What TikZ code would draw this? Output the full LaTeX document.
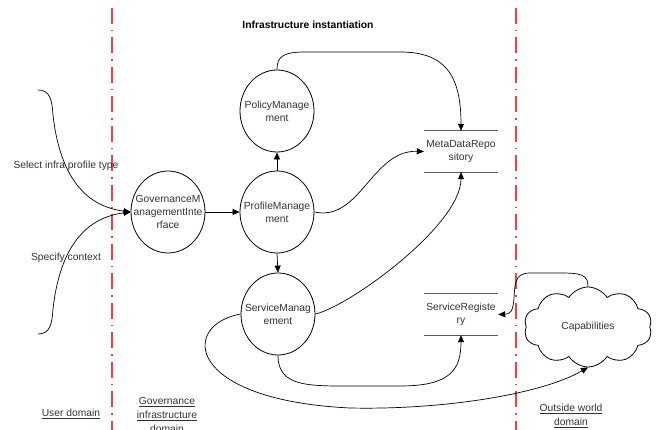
\documentclass[tikz,border=0pt]{standalone}
\usepackage{fontspec}
\setmainfont{Liberation Sans}
\usetikzlibrary{arrows.meta,shapes.geometric,shapes.symbols}
\definecolor{txt}{HTML}{333333}
\definecolor{redline}{HTML}{FF3B3B}
\definecolor{storeline}{HTML}{5A5A5A}
\begin{document}
\begin{tikzpicture}[x=1pt,y=-1pt,
  every node/.style={font=\fontsize{10.3}{13}\selectfont, text=txt},
  proc/.style={ellipse, draw=black, line width=0.8pt, minimum width=74pt, minimum height=82pt, inner sep=0pt},
  ptext/.style={align=center, inner sep=0pt},
  store/.style={minimum width=74pt, minimum height=41pt, inner sep=0pt, align=center},
  storeedge/.style={draw=storeline, line width=1.2pt},
  flow/.style={draw=black, line width=0.7pt, -{Triangle[length=7pt,width=6pt]}},
  boundary/.style={draw=redline, line width=1.3pt, dash pattern=on 16pt off 6pt on 1.5pt off 6pt},
  dom/.style={align=center, inner sep=0pt}
]
\useasboundingbox (0,0) rectangle (657,430);

% boundaries
\draw[boundary] (112,8) -- (112,430);
\draw[boundary] (516,8) -- (516,430);

% title
\node[font=\fontsize{10.3}{13}\selectfont\bfseries, text=black] (title) at (308,25) {Infrastructure instantiation};

% processes
\node[proc] (gov) at (168,212) {};
\node[ptext] (govt) at (gov) {GovernanceM\\anagementInte\\rface};
\node[proc] (prof) at (277,212) {};
\node[ptext] (proft) at (prof) {ProfileManage\\ment};
\node[proc] (pol) at (277,111) {};
\node[ptext] (polt) at (pol) {PolicyManage\\ment};
\node[proc] (serv) at (278,314) {};
\node[ptext] (servt) at (serv) {ServiceManag\\ement};

% stores
\node[store] (meta) at (461,151.5) {MetaDataRepo\\sitory};
\draw[storeedge] (meta.north west) -- (meta.north east);
\draw[storeedge] (meta.south west) -- (meta.south east);
\node[store] (reg) at (461,314.5) {ServiceRegiste\\ry};
\draw[storeedge] (reg.north west) -- (reg.north east);
\draw[storeedge] (reg.south west) -- (reg.south east);

% cloud
\node[cloud, draw=black, line width=0.8pt, cloud puffs=10, cloud puff arc=115, aspect=1.6,
      minimum width=128pt, minimum height=80pt, inner sep=0pt] (cap) at (588,327) {Capabilities};

% inputs
\coordinate (in1) at (38,90);
\coordinate (in2) at (38,334);
\draw[flow] (in1) .. controls (50,90) and (52,100) .. (53,115) .. controls (58,160) and (75,205) .. (gov.west);
\draw[flow] (in2) .. controls (50,334) and (52,324) .. (53,309) .. controls (58,264) and (75,219) .. (gov.west);
\node (lsel) at (66,166) {Select infra profile type};
\node (lspec) at (66,258) {Specify context};

% flows
\draw[flow] (gov.east) -- (prof.west);
\draw[flow] (prof.north) -- (pol.south);
\draw[flow] (prof.south) -- (serv.north);
\draw[flow] (pol.north) .. controls (277,56) and (284,52) .. (305,52) -- (400,52) .. controls (445,52) and (461,75) .. (meta.north);
\draw[flow] (prof.east) .. controls (360,222) and (372,150) .. (meta.west);
\draw[flow] (serv.east) .. controls (350,306) and (461,225) .. (meta.south);
\draw[flow] (serv.south) .. controls (278,388) and (310,386) .. (360,386) -- (400,386) .. controls (450,386) and (461,370) .. (reg.south);
\draw[flow] (serv.west) .. controls (180,325) and (185,400) .. (350,408) .. controls (440,410) and (540,395) .. (cap.south);
\draw[flow] (cap.north) .. controls (588,275) and (582,273) .. (560,273) -- (530,273) .. controls (514,273) and (515,285) .. (514,298) .. controls (513,312) and (510,314) .. (reg.east);

% domain labels
\node[dom] (udom) at (71,414) {\underline{User domain}};
\node[dom] (gdom) at (167,416) {\underline{Governance}\\[1pt]\underline{infrastructure}\\[1pt]\underline{domain}};
\node[dom] (odom) at (571,416) {\underline{Outside world}\\[1pt]\underline{domain}};
\end{tikzpicture}
\end{document}
